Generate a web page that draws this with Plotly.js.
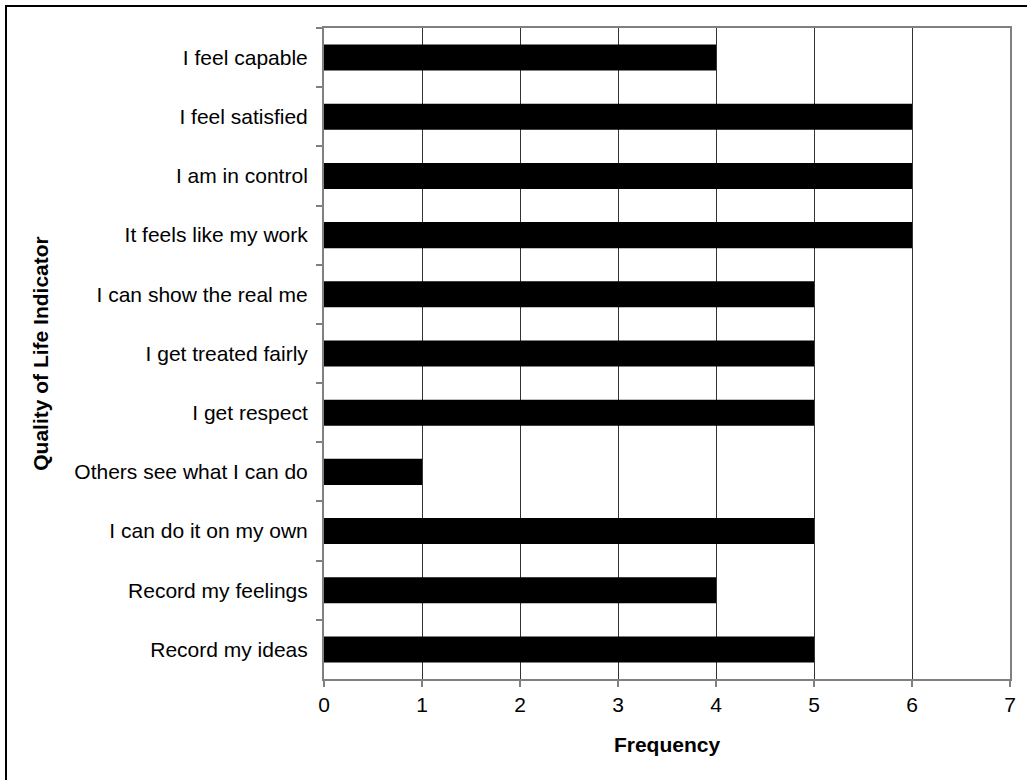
<!DOCTYPE html>
<html>
<head>
<meta charset="utf-8">
<script src="https://cdn.plot.ly/plotly-3.0.1.min.js"></script>
<style>
  html, body { margin: 0; padding: 0; width: 1027px; height: 780px; overflow: hidden; background: #fff; }
  #frame { position: absolute; left: 5px; top: 5px; width: 1040px; height: 800px; border: 2px solid #000; box-sizing: border-box; pointer-events: none; }
  #chart { position: absolute; left: 0; top: 0; width: 1027px; height: 780px; }
</style>
</head>
<body>
<div id="chart"></div>
<div id="frame"></div>
<script>
const categories = [
  "I feel capable",
  "I feel satisfied",
  "I am in control",
  "It feels like my work",
  "I can show the real me",
  "I get treated fairly",
  "I get respect",
  "Others see what I can do",
  "I can do it on my own",
  "Record my feelings",
  "Record my ideas"
];
const frequencies = [4, 6, 6, 6, 5, 5, 5, 1, 5, 4, 5];
const xTickValues = [0, 1, 2, 3, 4, 5, 6, 7];

const trace = {
  type: "bar",
  orientation: "h",
  y: categories,
  x: frequencies,
  marker: { color: "#000000", line: { width: 0 } },
  hoverinfo: "x+y"
};

const layout = {
  width: 1027,
  height: 780,
  margin: { l: 324, r: 17, t: 28, b: 101 },
  paper_bgcolor: "#ffffff",
  plot_bgcolor: "#ffffff",
  font: { family: "Liberation Sans, Arial, sans-serif", size: 21, color: "#000" },
  showlegend: false,
  bargap: 0.56,
  xaxis: {
    range: [0, 7],
    tickvals: xTickValues,
    ticktext: xTickValues.map(String),
    showgrid: true,
    gridcolor: "#333333",
    gridwidth: 1,
    zeroline: false,
    showline: true,
    mirror: true,
    linecolor: "#808080",
    linewidth: 2,
    ticks: "outside",
    ticklen: 6,
    tickcolor: "#808080",
    tickwidth: 2,
    tickfont: { size: 21, color: "#000" },
    ticklabelstandoff: 0,
    title: { text: "<b>Frequency</b>", font: { size: 21, color: "#000" }, standoff: 22 }
  },
  yaxis: {
    type: "category",
    autorange: "reversed",
    showgrid: false,
    zeroline: false,
    showline: true,
    mirror: true,
    linecolor: "#808080",
    linewidth: 2,
    ticks: "outside",
    tickson: "boundaries",
    ticklen: 6,
    tickcolor: "#808080",
    tickwidth: 2,
    tickfont: { size: 21, color: "#000" },
    ticklabelstandoff: 10,
    title: { text: "<b>Quality of Life Indicator</b>", font: { size: 21, color: "#000" }, standoff: 20 }
  }
};

Plotly.newPlot("chart", [trace], layout, { displayModeBar: false, staticPlot: true });
</script>
</body>
</html>
